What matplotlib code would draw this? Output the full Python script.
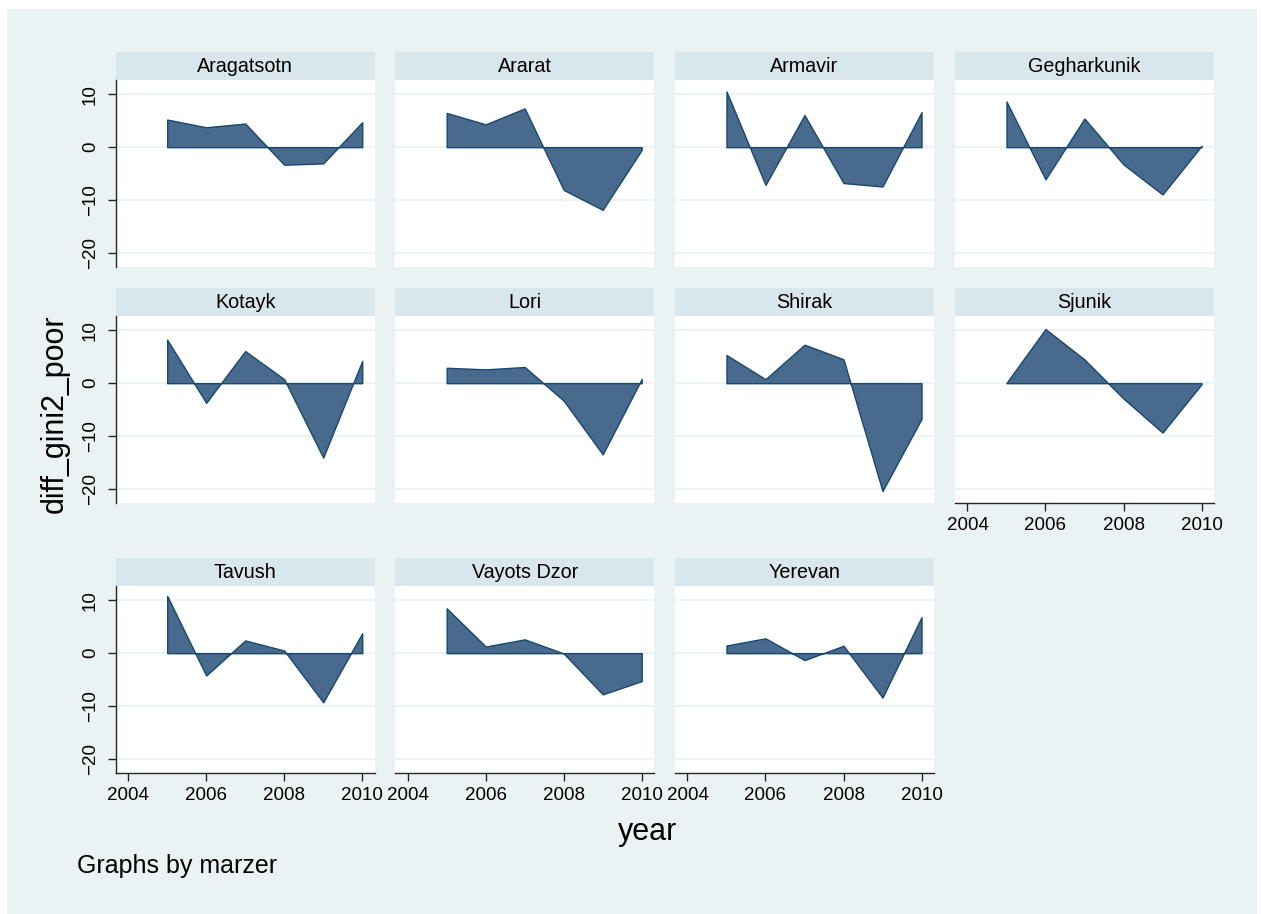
import matplotlib
matplotlib.use("Agg")
import matplotlib.pyplot as plt
from matplotlib.patches import Rectangle

plt.rcParams["font.family"] = ["Liberation Sans", "DejaVu Sans"]

years = [2005, 2006, 2007, 2008, 2009, 2010]
regions = ["Aragatsotn", "Ararat", "Armavir", "Gegharkunik",
           "Kotayk", "Lori", "Shirak", "Sjunik",
           "Tavush", "Vayots Dzor", "Yerevan"]

aragatsotn = [5.2, 3.75, 4.45, -3.3, -3.05, 4.7]
ararat = [6.45, 4.3, 7.3, -8.05, -11.8, -0.5]
armavir = [10.5, -7.1, 6.05, -6.75, -7.4, 6.6]
gegharkunik = [8.6, -6.05, 5.4, -3.25, -8.9, 0.25]
kotayk = [8.2, -3.7, 6.05, 0.75, -14.0, 4.2]
lori = [2.9, 2.6, 3.05, -3.3, -13.4, 0.8]
shirak = [5.3, 0.75, 7.25, 4.5, -20.3, -6.7]
sjunik = [0.05, 10.2, 4.45, -2.9, -9.3, -0.2]
tavush = [10.8, -4.2, 2.4, 0.5, -9.25, 3.75]
vayots_dzor = [8.45, 1.25, 2.6, -0.05, -7.75, -5.25]
yerevan = [1.45, 2.8, -1.3, 1.4, -8.35, 6.8]

series = [aragatsotn, ararat, armavir, gegharkunik,
          kotayk, lori, shirak, sjunik,
          tavush, vayots_dzor, yerevan]

y_ticks = [-20, -10, 0, 10]
x_ticks = [2004, 2006, 2008, 2010]

W, H = 1261, 914
BG = "#eaf2f3"
STRIP = "#d9e6eb"
FILL = "#486a8c"
EDGE = "#1a476f"
AXIS = "#262626"

# panel geometry in pixels
col_left = [115.7, 395.2, 675.0, 955.0]
panel_w = 259.0
row_top = [80.0, 316.0, 586.0]
panel_h = 186.7
strip_h = 27.7


def px_box(left, top, w, h):
    return [left / W, 1 - (top + h) / H, w / W, h / H]


def main():
    fig = plt.figure(figsize=(W / 100, H / 100), dpi=100)
    fig.patch.set_facecolor("white")
    fig.add_artist(Rectangle((7 / W, 0), (1257 - 7) / W, 1 - 9 / H,
                             transform=fig.transFigure, facecolor=BG,
                             edgecolor="none", zorder=0))

    for i, (name, vals) in enumerate(zip(regions, series)):
        row, col = divmod(i, 4)
        left = col_left[col]
        top = row_top[row]

        # strip with the region name
        sax = fig.add_axes(px_box(left, top - strip_h, panel_w, strip_h))
        sax.set_facecolor(STRIP)
        sax.set_xticks([])
        sax.set_yticks([])
        for s in sax.spines.values():
            s.set_visible(False)
        sax.text(0.5, 0.5, name, ha="center", va="center", fontsize=14.2,
                 transform=sax.transAxes)

        ax = fig.add_axes(px_box(left, top, panel_w, panel_h))
        ax.set_facecolor("white")
        ax.fill_between(years, vals, 0, facecolor=FILL, edgecolor=EDGE,
                        linewidth=1.0, zorder=3)
        ax.set_xlim(2003.68, 2010.32)
        ax.set_ylim(-22.5, 12.65)
        ax.set_yticks(y_ticks)
        ax.set_xticks(x_ticks)
        ax.grid(axis="y", color=BG, linewidth=1.3, zorder=1)
        for s in ax.spines.values():
            s.set_visible(False)
            s.set_color(AXIS)
            s.set_linewidth(1.0)

        show_y = col == 0
        show_x = row == 2 or name == "Sjunik"
        ax.spines["left"].set_visible(show_y)
        ax.spines["bottom"].set_visible(show_x)
        ax.tick_params(axis="y", left=show_y, labelleft=show_y,
                       length=6, width=1.0, color=AXIS, pad=6,
                       labelsize=13.5, labelrotation=90)
        ax.tick_params(axis="x", bottom=show_x, labelbottom=show_x,
                       length=6, width=1.0, color=AXIS, pad=4,
                       labelsize=13.5)
        for lab in ax.get_yticklabels():
            lab.set_verticalalignment("center")

    fig.text(55 / W, 1 - 414 / H, "diff_gini2_poor", rotation=90,
             ha="center", va="center", fontsize=22)
    fig.text(648 / W, 1 - 840 / H, "year", ha="center", va="baseline",
             fontsize=22)
    fig.text(77 / W, 1 - 873 / H, "Graphs by marzer", ha="left",
             va="baseline", fontsize=18)

    fig.savefig("out.png", dpi=100, facecolor=fig.get_facecolor())


if __name__ == "__main__":
    main()
